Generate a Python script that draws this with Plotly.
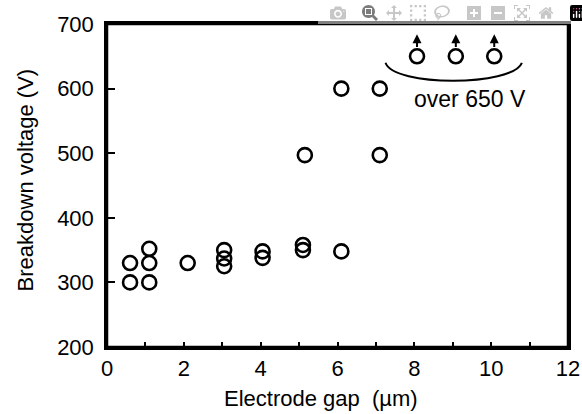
import plotly.graph_objects as go

# Data
gap_um = [0.6, 0.6, 1.1, 1.1, 1.1, 2.1, 3.05, 3.05, 3.05, 4.05, 4.05, 5.1, 5.1, 5.15, 6.1, 6.1, 7.1, 7.1]
breakdown_v = [300, 330, 300, 330, 352, 330, 325, 337, 350, 338, 348, 350, 358, 497, 348, 600, 497, 600]

over_gap_um = [8.07, 9.08, 10.08]
over_v = [650, 650, 650]

x_tickvals = list(range(0, 13))
x_ticktext = ["0", "", "2", "", "4", "", "6", "", "8", "", "10", "", "12"]
y_tickvals = [200, 300, 400, 500, 600, 700]

FONT = "Liberation Sans, Arial, Helvetica, sans-serif"

fig = go.Figure()
marker = dict(symbol="circle-open", size=14, color="black", line=dict(width=2.6, color="black"))
fig.add_trace(go.Scatter(x=gap_um, y=breakdown_v, mode="markers", marker=marker, showlegend=False))
fig.add_trace(go.Scatter(x=over_gap_um, y=over_v, mode="markers", marker=marker, showlegend=False))

annotations = []
for gx, gv in zip(over_gap_um, over_v):
    annotations.append(dict(x=gx, y=gv + 34, ax=gx, ay=gv + 12, xref="x", yref="y", axref="x", ayref="y",
                            showarrow=True, arrowhead=2, arrowsize=0.9, arrowwidth=2, arrowcolor="black",
                            standoff=0, startstandoff=0, text=""))
annotations.append(dict(x=9.45, y=584, xref="x", yref="y", text="over 650 V", showarrow=False,
                        font=dict(family=FONT, size=23, color="black")))
# axis titles
annotations.append(dict(x=0.464, y=-0.159, xref="paper", yref="paper", text="Electrode gap  (µm)",
                        showarrow=False, xanchor="center", yanchor="middle",
                        font=dict(family=FONT, size=22, color="black")))
annotations.append(dict(x=-0.177, y=0.517, xref="paper", yref="paper", text="Breakdown voltage (V)",
                        showarrow=False, xanchor="center", yanchor="middle", textangle=-90,
                        font=dict(family=FONT, size=22, color="black")))

fig.update_layout(
    width=592, height=414,
    margin=dict(l=107, r=22, t=13, b=67),
    paper_bgcolor="white", plot_bgcolor="white",
    font=dict(family=FONT, size=22, color="black"),
    annotations=annotations,
    shapes=[dict(type="path", xref="x", yref="y",
                 path="M 7.25,640 C 7.45,603 10.55,603 10.8,640",
                 line=dict(color="black", width=2)),
            dict(type="rect", xref="paper", yref="paper", x0=0, x1=1, y0=0, y1=1,
                 line=dict(color="black", width=2.5), layer="above")],
)
fig.update_xaxes(range=[0, 12], tickvals=x_tickvals, ticktext=x_ticktext, ticks="inside", ticklen=5,
                 tickwidth=2, tickcolor="black", showline=True, linewidth=2.5, linecolor="black", mirror=True,
                 showgrid=False, zeroline=False, tickfont=dict(size=22), ticklabeloverflow="allow")
fig.update_yaxes(range=[200, 700], tickvals=y_tickvals, ticks="inside", ticklen=8,
                 tickwidth=2, tickcolor="black", showline=True, linewidth=2.5, linecolor="black", mirror=True,
                 showgrid=False, zeroline=False, tickfont=dict(size=22), ticklabelstandoff=6,
                 ticklabeloverflow="allow")

fig.write_html("out.html", post_script="document.body.style.margin='0';")
